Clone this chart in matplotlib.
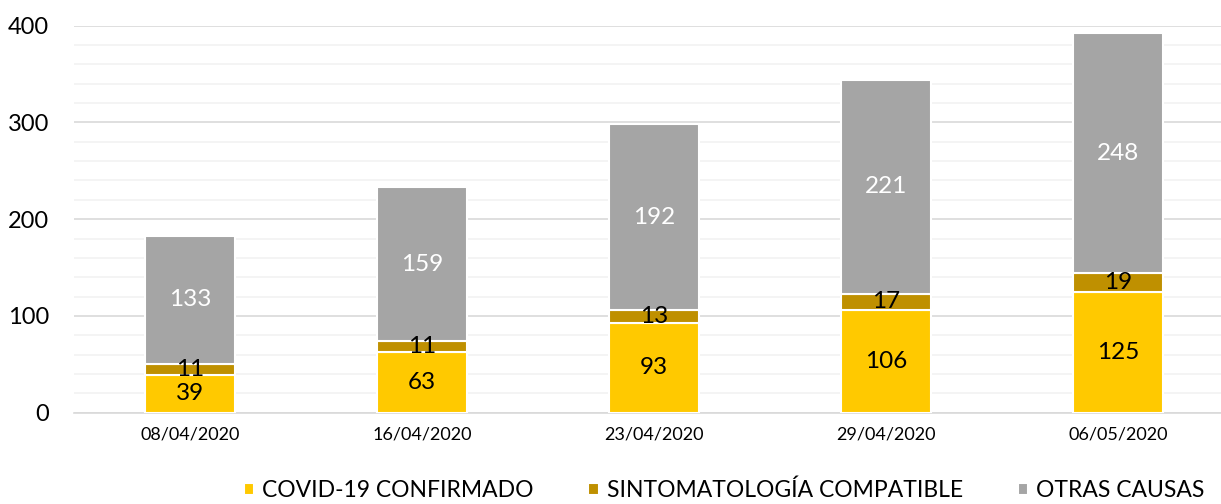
import matplotlib.pyplot as plt
import numpy as np

fechas = ['08/04/2020', '16/04/2020', '23/04/2020', '29/04/2020', '06/05/2020']
covid = [39, 63, 93, 106, 125]
sintom = [11, 11, 13, 17, 19]
otras = [133, 159, 192, 221, 248]
series_names = ['COVID-19 CONFIRMADO', 'SINTOMATOLOGÍA COMPATIBLE', 'OTRAS CAUSAS']

plt.rcParams['font.family'] = ['Lato', 'DejaVu Sans']

fig = plt.figure(figsize=(12.21, 5.04), dpi=100)
ax = fig.add_axes([74/1221, 1-412.7/504, 1160/1221, (412.7-25.7)/504])

x = np.arange(len(fechas))
w = 0.39
b1 = ax.bar(x, covid, w, color='#FFC900', edgecolor='white', linewidth=1.5, label=series_names[0], zorder=3)
b2 = ax.bar(x, sintom, w, bottom=covid, color='#BF9000', edgecolor='white', linewidth=1.5, label=series_names[1], zorder=3)
bottom3 = np.array(covid) + np.array(sintom)
b3 = ax.bar(x, otras, w, bottom=bottom3, color='#A5A5A5', edgecolor='white', linewidth=1.5, label=series_names[2], zorder=3)

ax.bar_label(b1, label_type='center', fontsize=17.5, color='black')
ax.bar_label(b2, label_type='center', fontsize=17.5, color='black')
ax.bar_label(b3, label_type='center', fontsize=17.5, color='white')

ax.set_xlim(-0.5, 4.5)
ax.set_ylim(0, 400)
ax.set_yticks([0, 100, 200, 300, 400])
ax.set_yticks(np.arange(0, 401, 20), minor=True)
ax.set_xticks(x)
ax.set_xticklabels(fechas, fontsize=13)
ax.tick_params(axis='y', labelsize=17, length=0, pad=18)
ax.tick_params(axis='y', which='minor', length=0)
ax.tick_params(axis='x', length=0, pad=10)
ax.grid(axis='y', which='major', color='#D9D9D9', linewidth=1.2, zorder=0)
ax.grid(axis='y', which='minor', color='#F2F2F2', linewidth=1.2, zorder=0)
for s in ['top', 'right', 'left']:
    ax.spines[s].set_visible(False)
ax.spines['bottom'].set_color('#D9D9D9')
ax.spines['bottom'].set_linewidth(1.2)

fig.legend(handles=[b1, b2, b3], loc='lower center', bbox_to_anchor=(0.593, -0.035), ncol=3,
           frameon=False, fontsize=16.5, handlelength=0.45, handleheight=0.45, handletextpad=0.35,
           columnspacing=2.4)

fig.savefig('out.png', dpi=100)
